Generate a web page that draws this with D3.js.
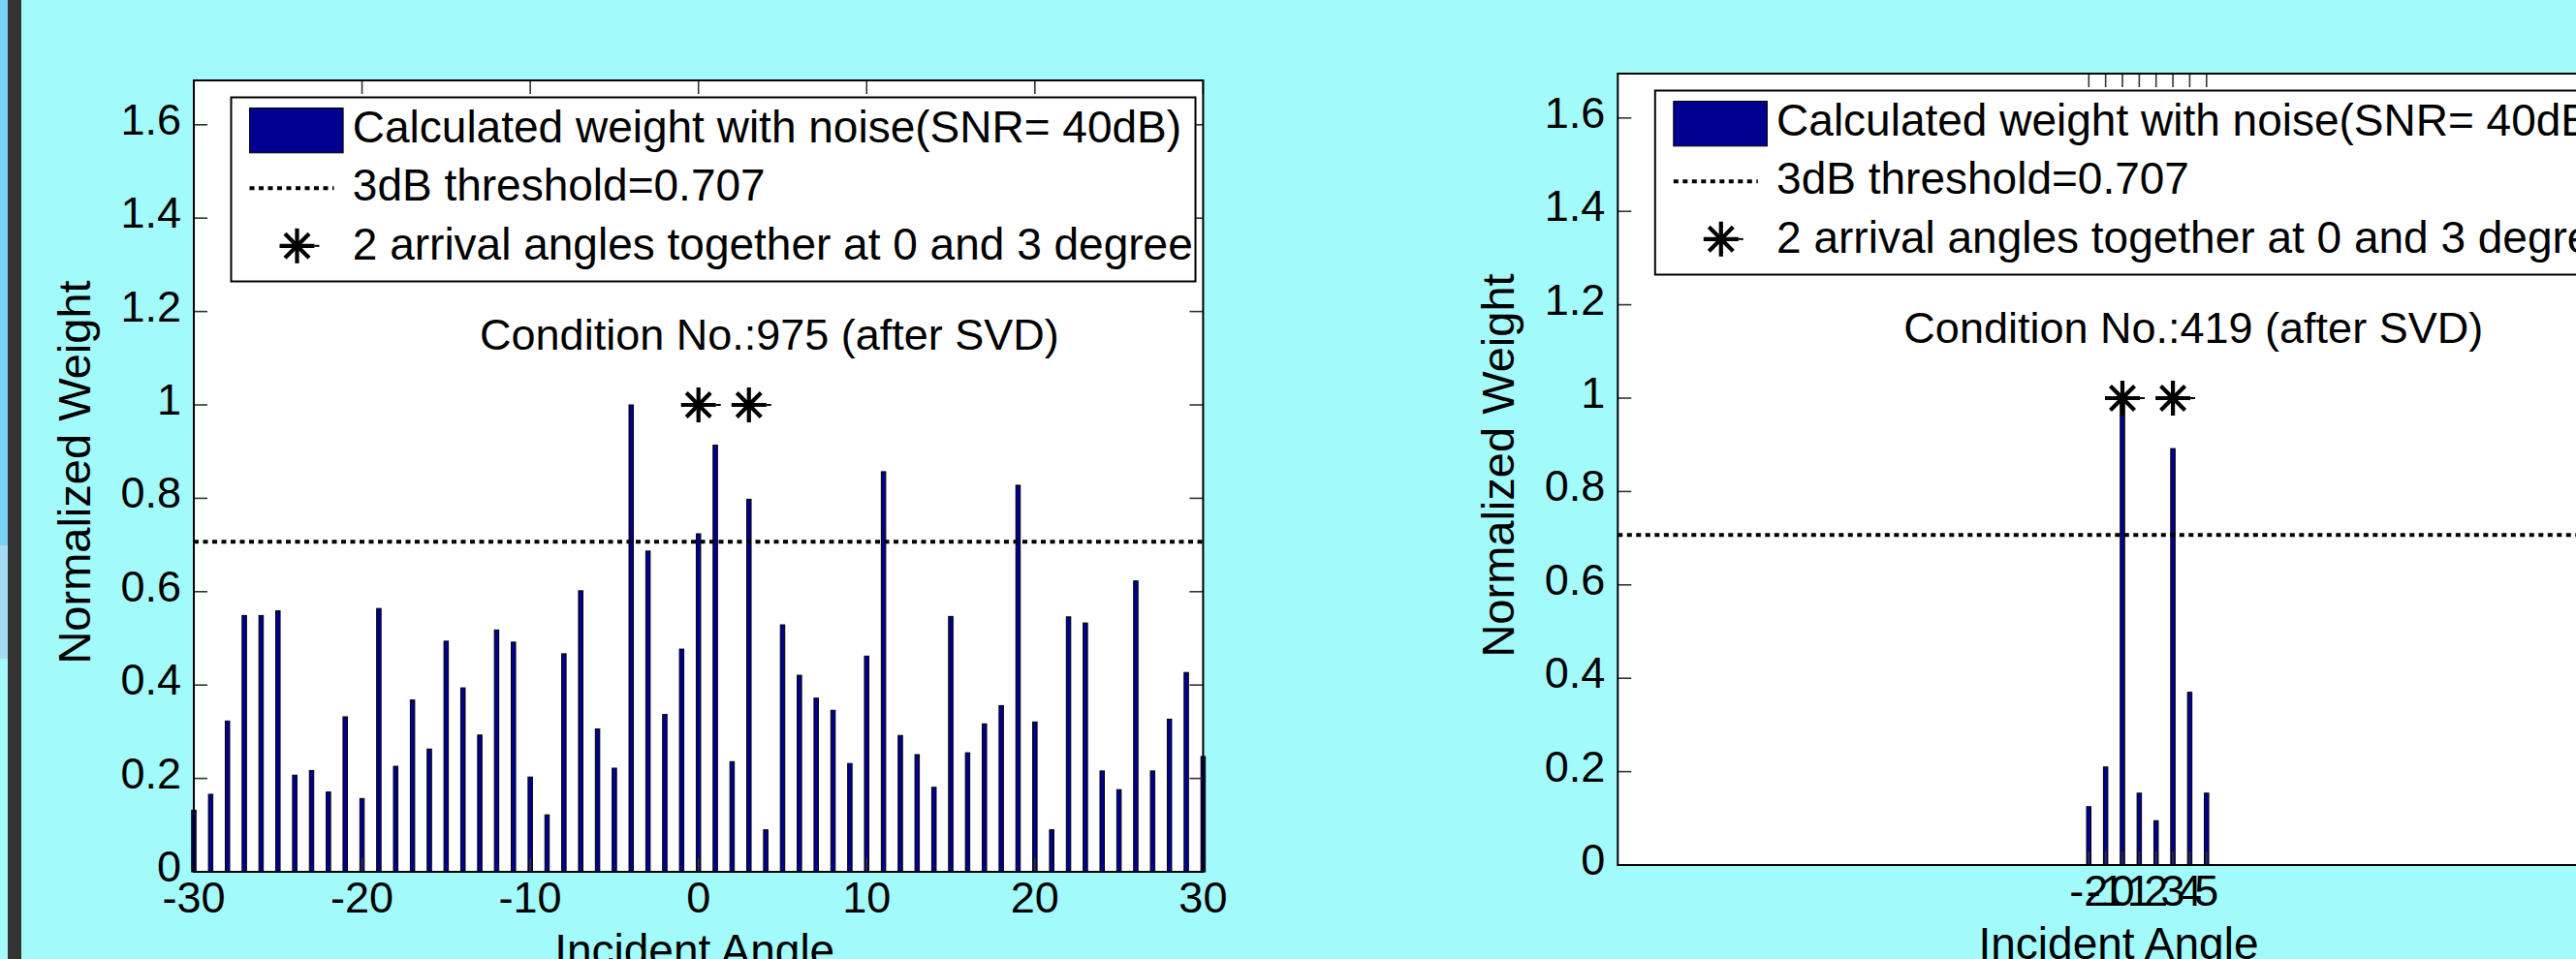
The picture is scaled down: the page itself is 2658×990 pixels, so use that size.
<!DOCTYPE html>
<html>
<head>
<meta charset="utf-8">
<script src="https://cdn.jsdelivr.net/npm/d3@7"></script>
<style>
  body { margin: 0; background: #a2fafa; overflow: hidden; }
  svg { display: block; }
  text { font-family: "Liberation Sans", Arial, Helvetica, sans-serif; fill: #000; }
</style>
</head>
<body>
<div id="chart"></div>
<script>
const width = 2658;
const height = 990;

// left panel: all angles -30..30
const leftAngles = [-30, -29, -28, -27, -26, -25, -24, -23, -22, -21, -20, -19, -18, -17, -16, -15,
    -14, -13, -12, -11, -10, -9, -8, -7, -6, -5, -4, -3, -2, -1, 0, 1, 2, 3, 4, 5, 6, 7, 8, 9, 10,
    11, 12, 13, 14, 15, 16, 17, 18, 19, 20, 21, 22, 23, 24, 25, 26, 27, 28, 29, 30];
const leftWeights = [0.132, 0.166, 0.323, 0.549, 0.549, 0.559, 0.207, 0.217, 0.171, 0.332, 0.157, 0.564,
    0.226, 0.368, 0.263, 0.494, 0.394, 0.293, 0.518, 0.492, 0.203, 0.122, 0.467, 0.602, 0.306, 0.222,
    1.000, 0.687, 0.337, 0.477, 0.724, 0.914, 0.236, 0.798, 0.090, 0.529, 0.421, 0.372, 0.346, 0.232,
    0.462, 0.857, 0.292, 0.251, 0.181, 0.547, 0.255, 0.317, 0.356, 0.828, 0.321, 0.090, 0.546, 0.533,
    0.216, 0.176, 0.623, 0.216, 0.327, 0.427, 0.247];
const leftXTicks = [-30, -20, -10, 0, 10, 20, 30];

// right panel: only the angles near the sources are non-zero
const rightAngles = [-2, -1, 0, 1, 2, 3, 4, 5];
const rightWeights = [0.125, 0.210, 1.000, 0.154, 0.095, 0.892, 0.370, 0.154];
const rightXTicks = [-2, -1, 0, 1, 2, 3, 4, 5];

const yTicks = [0, 0.2, 0.4, 0.6, 0.8, 1, 1.2, 1.4, 1.6];
const arrivalAngles = [0, 3];
const arrivalLevel = 1;
const threshold = 0.707;

const legendLabels = [
    "Calculated weight with noise(SNR= 40dB)",
    "3dB threshold=0.707",
    "2 arrival angles together at 0 and 3 degree"
];
const conditionLabels = ["Condition No.:975 (after SVD)", "Condition No.:419 (after SVD)"];
const conditionPos = [-13, 1.118];
const xLabel = "Incident Angle";
const yLabel = "Normalized Weight";

const svg = d3.select("#chart").append("svg")
    .attr("width", width)
    .attr("height", height);

// slide background bits at the left edge
svg.append("rect").attr("x", 0).attr("y", 0).attr("width", 8).attr("height", 563).attr("fill", "#7ccff6");
svg.append("rect").attr("x", 0).attr("y", 563).attr("width", 8).attr("height", 117).attr("fill", "#a6dcf6");
svg.append("rect").attr("x", 8).attr("y", 0).attr("width", 14).attr("height", height).attr("fill", "#333333");

function star(g, cx, cy) {
    const r = 18, d = 12.5;
    const s = g.append("g").attr("transform", `translate(${cx},${cy})`)
        .attr("stroke", "#000").attr("stroke-width", 4.2);
    s.append("line").attr("x1", -r).attr("x2", r).attr("y1", 0).attr("y2", 0);
    s.append("line").attr("x1", r).attr("x2", r + 5).attr("y1", 0).attr("y2", 0).attr("stroke-width", 2);
    s.append("line").attr("x1", 0).attr("x2", 0).attr("y1", -r).attr("y2", r);
    s.append("line").attr("x1", -d).attr("x2", d).attr("y1", -d).attr("y2", d);
    s.append("line").attr("x1", -d).attr("x2", d).attr("y1", d).attr("y2", -d);
}

function drawPanel(p) {
    const x = d3.scaleLinear().domain([-30, 30]).range([p.left, p.left + 1041.4]);
    const y = d3.scaleLinear().domain([0, 1]).range([p.base, p.base - 482]);
    const yMax = 1.695;
    const top = y(yMax);
    const g = svg.append("g");

    g.append("rect")
        .attr("x", x(-30)).attr("y", top)
        .attr("width", x(30) - x(-30)).attr("height", p.base - top)
        .attr("fill", "#fff");

    // bars
    const bw = x(0.13) - x(-0.13);
    g.selectAll("rect.bar")
      .data(p.angles.map((a, i) => ({a, w: p.weights[i]})))
      .join("rect")
        .attr("class", "bar")
        .attr("x", d => x(d.a) - bw / 2)
        .attr("y", d => y(d.w))
        .attr("width", bw)
        .attr("height", d => p.base - y(d.w))
        .attr("fill", "#00008f")
        .attr("stroke", "#000")
        .attr("stroke-width", 1);

    // ticks (inward, on all four sides)
    const tl = 14;
    const ticks = g.append("g").attr("stroke", "#333").attr("stroke-width", 1.6);
    yTicks.forEach(t => {
        ticks.append("line").attr("x1", x(-30)).attr("x2", x(-30) + tl).attr("y1", y(t)).attr("y2", y(t));
        ticks.append("line").attr("x1", x(30)).attr("x2", x(30) - tl).attr("y1", y(t)).attr("y2", y(t));
    });
    p.xTicks.forEach(t => {
        ticks.append("line").attr("x1", x(t)).attr("x2", x(t)).attr("y1", p.base).attr("y2", p.base - tl);
        ticks.append("line").attr("x1", x(t)).attr("x2", x(t)).attr("y1", top).attr("y2", top + tl);
    });

    // 3dB threshold
    g.append("line")
        .attr("x1", x(-30)).attr("x2", x(30))
        .attr("y1", y(threshold)).attr("y2", y(threshold))
        .attr("stroke", "#000").attr("stroke-width", 4)
        .attr("stroke-dasharray", "5,4.5");

    arrivalAngles.forEach(a => star(g, x(a), y(arrivalLevel)));

    // axes box
    g.append("rect")
        .attr("x", x(-30)).attr("y", top)
        .attr("width", x(30) - x(-30)).attr("height", p.base - top)
        .attr("fill", "none").attr("stroke", "#000").attr("stroke-width", 2);

    // tick labels
    g.selectAll("text.ytl").data(yTicks).join("text")
        .attr("class", "ytl")
        .attr("x", x(-30) - 13).attr("y", d => y(d) + 10)
        .attr("text-anchor", "end").attr("font-size", 45)
        .text(d => d3.format("~g")(d));
    g.selectAll("text.xtl").data(p.xTicks).join("text")
        .attr("class", "xtl")
        .attr("x", d => x(d)).attr("y", p.base + 42)
        .attr("text-anchor", "middle").attr("font-size", 45)
        .text(d => d);

    // axis labels
    g.append("text")
        .attr("transform", `translate(${x(-30) - 107},${(top + p.base) / 2 - 4}) rotate(-90)`)
        .attr("text-anchor", "middle").attr("font-size", 47)
        .text(yLabel);
    g.append("text")
        .attr("x", x(0) - 4).attr("y", p.base + 97)
        .attr("text-anchor", "middle").attr("font-size", 46)
        .text(xLabel);

    // condition number annotation
    g.append("text")
        .attr("x", x(conditionPos[0])).attr("y", y(conditionPos[1]))
        .attr("font-size", 45)
        .text(p.condition);

    // legend
    const lx = x(-30) + 38.5, ly = top + 17.5;
    const lg = g.append("g").attr("transform", `translate(${lx},${ly})`);
    lg.append("rect").attr("width", 995).attr("height", 190)
        .attr("fill", "#fff").attr("stroke", "#000").attr("stroke-width", 2);
    lg.append("rect").attr("x", 19).attr("y", 11).attr("width", 96.6).attr("height", 46.3)
        .attr("fill", "#00008f").attr("stroke", "#000").attr("stroke-width", 1);
    lg.append("line").attr("x1", 19).attr("x2", 106).attr("y1", 93.7).attr("y2", 93.7)
        .attr("stroke", "#000").attr("stroke-width", 4).attr("stroke-dasharray", "5,4.5");
    star(lg, 68, 153.3);
    lg.selectAll("text").data(legendLabels).join("text")
        .attr("x", 125.3)
        .attr("y", (d, i) => [46, 106, 167.3][i])
        .attr("font-size", 46)
        .text(d => d);
}

drawPanel({left: 200, base: 900, angles: leftAngles, weights: leftWeights,
    xTicks: leftXTicks, condition: conditionLabels[0]});
drawPanel({left: 1669.3, base: 893, angles: rightAngles, weights: rightWeights,
    xTicks: rightXTicks, condition: conditionLabels[1]});
</script>
</body>
</html>
